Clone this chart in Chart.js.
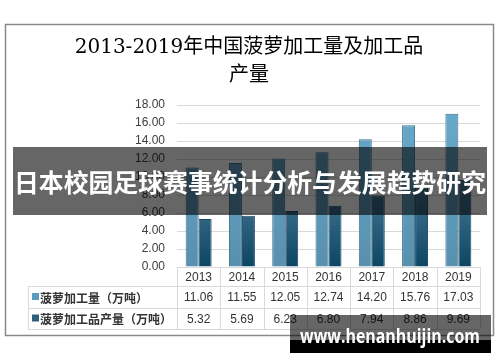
<!DOCTYPE html>
<html>
<head>
<meta charset="utf-8">
<script src="https://cdn.jsdelivr.net/npm/chart.js@4/dist/chart.umd.min.js"></script>
<style>
  body { margin: 0; background: #fff; }
  #wrap { width: 500px; height: 362px; }
</style>
</head>
<body>
<div id="wrap"><canvas id="chart" width="500" height="362"></canvas></div>
<script>
const years = ['2013', '2014', '2015', '2016', '2017', '2018', '2019'];
const processing = [11.06, 11.55, 12.05, 12.74, 14.20, 15.76, 17.03];
const products = [5.32, 5.69, 6.23, 6.80, 7.94, 8.86, 9.69];
const seriesNames = ['菠萝加工量（万吨）', '菠萝加工品产量（万吨）'];
const yMin = 0, yMax = 18, yStep = 2;
const titleLines = ['2013-2019年中国菠萝加工量及加工品', '产量'];
const bannerText = '日本校园足球赛事统计分析与发展趋势研究';
const watermarkText = 'www.henanhuijin.com';

const lightColor = '#5b9bbd';
const darkColor = '#2e5f7c';
const lineColor = '#d9d9d9';

function lightFill(context) {
    const area = context.chart.chartArea;
    if (!area) return lightColor;
    const g = context.chart.ctx.createLinearGradient(0, area.top, 0, area.bottom);
    g.addColorStop(0, '#68aacc');
    g.addColorStop(1, '#5890ae');
    return g;
}

function darkFill(context) {
    const area = context.chart.chartArea;
    if (!area) return darkColor;
    const g = context.chart.ctx.createLinearGradient(0, 180, 0, area.bottom);
    g.addColorStop(0, '#4a7b99');
    g.addColorStop(1, '#0c4663');
    return g;
}

// frame, title, table, overlay banner and watermark
const extras = {
    id: 'extras',
    beforeDraw(chart) {
        const c = chart.ctx;
        c.save();
        c.fillStyle = '#fff';
        c.fillRect(0, 0, chart.width, chart.height);
        c.strokeStyle = '#8a8a8a';
        c.lineWidth = 1.5;
        c.strokeRect(5.5, 24.5, 488, 311);
        c.restore();
    },
    afterDraw(chart) {
        const c = chart.ctx;
        const x = chart.scales.x;
        const area = chart.chartArea;
        c.save();

        // title
        c.fillStyle = '#000';
        c.textAlign = 'center';
        c.textBaseline = 'middle';
        c.font = '20px "DejaVu Serif", "Noto Sans CJK SC", serif';
        c.fillText(titleLines[0], 249, 48, 356);
        c.fillText(titleLines[1], 249, 76);

        // data table
        const colW = (area.right - area.left) / years.length;
        const rows = [area.bottom, 286, 308, 329];
        const tableLeft = 28;
        c.strokeStyle = lineColor;
        c.lineWidth = 1;
        const hl = (x1, x2, y) => { c.beginPath(); c.moveTo(x1, y + 0.5); c.lineTo(x2, y + 0.5); c.stroke(); };
        const vl = (xx, y1, y2) => { c.beginPath(); c.moveTo(Math.round(xx) + 0.5, y1); c.lineTo(Math.round(xx) + 0.5, y2); c.stroke(); };
        hl(area.left, area.right, rows[0]);
        hl(tableLeft, area.right, rows[1]);
        hl(tableLeft, area.right, rows[2]);
        hl(tableLeft, area.right, rows[3]);
        vl(tableLeft, rows[1], rows[3]);
        for (let i = 0; i <= years.length; i++) {
            vl(area.left + i * colW, rows[0], rows[3]);
        }

        c.fillStyle = '#333';
        c.font = '12px "Liberation Sans", sans-serif';
        const rowVals = [processing, products];
        years.forEach((yr, i) => {
            const cx = x.getPixelForValue(i);
            c.fillText(yr, cx, (rows[0] + rows[1]) / 2 + 1);
            c.fillText(processing[i].toFixed(2), cx, (rows[1] + rows[2]) / 2 + 1);
            c.fillText(products[i].toFixed(2), cx, (rows[2] + rows[3]) / 2 + 1);
        });

        c.textAlign = 'left';
        c.font = 'bold 12px "Noto Sans CJK SC", sans-serif';
        [lightColor, darkColor].forEach((col, k) => {
            const cy = (rows[k + 1] + rows[k + 2]) / 2;
            c.fillStyle = col;
            c.fillRect(32, cy - 4, 7, 7);
            c.fillStyle = '#333';
            c.fillText(seriesNames[k], 40, cy + 1);
        });

        // banner across the middle
        c.fillStyle = 'rgba(0,0,0,0.6)';
        c.fillRect(13, 147, 474, 68);
        c.fillStyle = '#fff';
        c.textAlign = 'center';
        c.font = 'bold 25px "Noto Sans CJK SC", sans-serif';
        c.fillText(bannerText, 250, 182, 472);

        // watermark
        c.fillStyle = 'rgba(0,0,0,0.6)';
        c.fillRect(290, 315, 201, 25);
        c.fillStyle = '#000';
        c.fillRect(290, 340, 201, 13);
        c.fillStyle = '#fff';
        c.font = 'bold 19px "Open Sans", sans-serif';
        c.textBaseline = 'alphabetic';
        c.fillText(watermarkText, 390, 343, 180);

        c.restore();
    }
};

new Chart(document.getElementById('chart'), {
    type: 'bar',
    data: {
        labels: years,
        datasets: [
            {
                label: seriesNames[0],
                data: processing,
                backgroundColor: lightFill,
                borderColor: '#3f718b',
                borderWidth: 1
            },
            {
                label: seriesNames[1],
                data: products,
                backgroundColor: darkFill,
                borderColor: '#1d4a63',
                borderWidth: 1
            }
        ]
    },
    options: {
        responsive: false,
        animation: false,
        layout: { padding: { top: 105, right: 20, bottom: 95, left: 0 } },
        datasets: {
            bar: { categoryPercentage: 0.6, barPercentage: 1.0 }
        },
        plugins: {
            legend: { display: false },
            title: { display: false },
            tooltip: { enabled: false }
        },
        scales: {
            x: {
                display: false
            },
            y: {
                min: yMin,
                max: yMax,
                ticks: {
                    stepSize: yStep,
                    padding: 12,
                    color: '#404040',
                    font: { family: 'Liberation Sans', size: 12 },
                    callback: v => v.toFixed(2)
                },
                grid: { color: lineColor, drawTicks: false },
                border: { display: false },
                afterFit: scale => { scale.width = 177; }
            }
        }
    },
    plugins: [extras]
});
</script>
</body>
</html>
